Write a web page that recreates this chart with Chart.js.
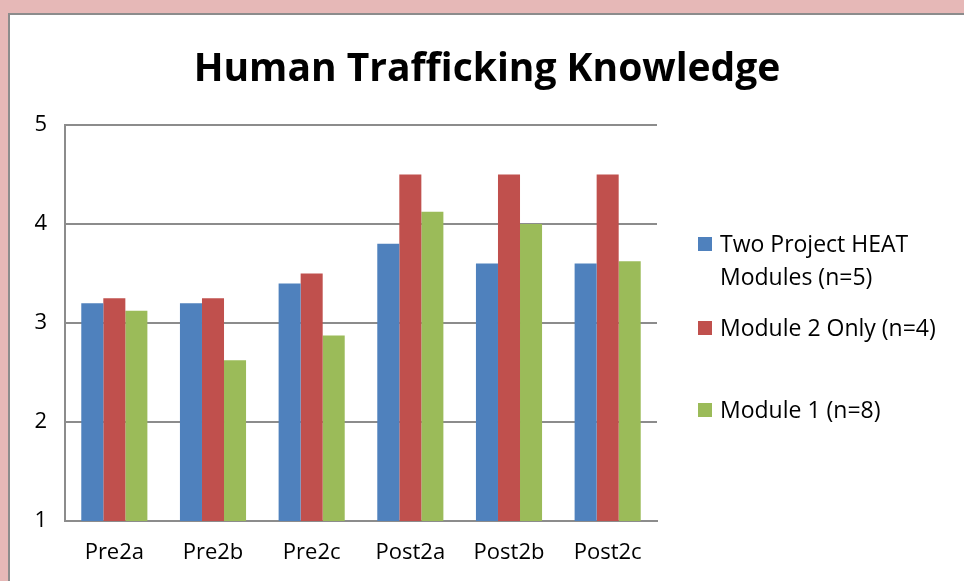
<!DOCTYPE html>
<html>
<head>
<meta charset="utf-8">
<script src="https://cdn.jsdelivr.net/npm/chart.js@4"></script>
<style>
	body { margin: 0; background: #e6b8b7; width: 964px; height: 581px; overflow: hidden; font-family: "Open Sans", sans-serif; }
	#box { position: absolute; left: 8px; top: 13px; width: 956px; height: 568px; background: #fff; border-left: 2px solid #8c8c8c; border-top: 2px solid #8c8c8c; }
	#chartWrap { position: absolute; left: 0; top: 0; width: 954px; height: 566px; }
	#chartTitle { position: absolute; left: 0; top: 25px; width: 954px; text-align: center; font-size: 39px; font-weight: bold; line-height: 52px; color: #000; }
	#legend { position: absolute; left: 0; top: 0; }
	.lgItem { position: absolute; left: 688px; width: 266px; font-size: 23px; line-height: 33px; color: #000; }
	.lgBox { position: absolute; left: 0; top: 10px; width: 14px; height: 14px; }
	.lgTxt { position: absolute; left: 22px; top: 0; white-space: nowrap; }
</style>
</head>
<body>
<div id="box">
	<div id="chartWrap"><canvas id="heatChart" width="954" height="566"></canvas></div>
	<div id="chartTitle">Human Trafficking Knowledge</div>
	<div id="legend"></div>
</div>
<script>
// 카테고리 / 시리즈
var categories = ['Pre2a', 'Pre2b', 'Pre2c', 'Post2a', 'Post2b', 'Post2c'];
var seriesNames = [['Two Project HEAT', 'Modules (n=5)'], ['Module 2 Only (n=4)'], ['Module 1 (n=8)']];
var twoModules = [3.2, 3.2, 3.4, 3.8, 3.6, 3.6];
var module2Only = [3.25, 3.25, 3.5, 4.5, 4.5, 4.5];
var module1 = [3.125, 2.625, 2.875, 4.125, 4.0, 3.625];
var yTicks = [1, 2, 3, 4, 5];
var seriesColors = ['#4f81bd', '#c0504d', '#9bbb59'];

var gridColor = '#8c8c8c';
var fontName = 'Open Sans';

var chartData = {
	labels: categories,
	datasets: [
		{ label: seriesNames[0].join(' '), data: twoModules, backgroundColor: seriesColors[0] },
		{ label: seriesNames[1].join(' '), data: module2Only, backgroundColor: seriesColors[1] },
		{ label: seriesNames[2].join(' '), data: module1, backgroundColor: seriesColors[2] }
	]
};

var heatChart = new Chart(document.getElementById('heatChart').getContext('2d'), {
	type: 'bar',
	data: chartData,
	options: {
		responsive: false,
		animation: false,
		categoryPercentage: 0.67,
		barPercentage: 1.0,
		layout: { padding: { left: 0, right: 307, top: 110, bottom: 0 } },
		plugins: {
			legend: { display: false },
			tooltip: { enabled: false }
		},
		scales: {
			x: {
				grid: { display: false, drawTicks: false },
				border: { display: true, color: gridColor, width: 2 },
				ticks: { color: '#000', font: { family: fontName, size: 22 }, padding: 19 },
				afterFit: function (axis) { axis.height = 60; }
			},
			y: {
				min: 1,
				max: 5,
				afterBuildTicks: function (axis) { axis.ticks = yTicks.map(function (v) { return { value: v }; }); },
				grid: { color: gridColor, lineWidth: 2, drawTicks: false },
				border: { display: true, color: gridColor, width: 2 },
				ticks: { color: '#000', font: { family: fontName, size: 22 }, padding: 18 },
				afterFit: function (axis) { axis.width = 55; }
			}
		}
	}
});

//범례
var legendTops = [[212, 245], [296], [378]];
var html = '';
for (var i = 0; i < seriesNames.length; i++) {
	html += '<div class="lgItem" style="top:' + legendTops[i][0] + 'px;">' +
				'<div class="lgBox" style="background:' + seriesColors[i] + ';"></div>' +
				'<div class="lgTxt">' + seriesNames[i].join('<br>') + '</div>' +
			'</div>';
}
document.getElementById('legend').innerHTML = html;
</script>
</body>
</html>
